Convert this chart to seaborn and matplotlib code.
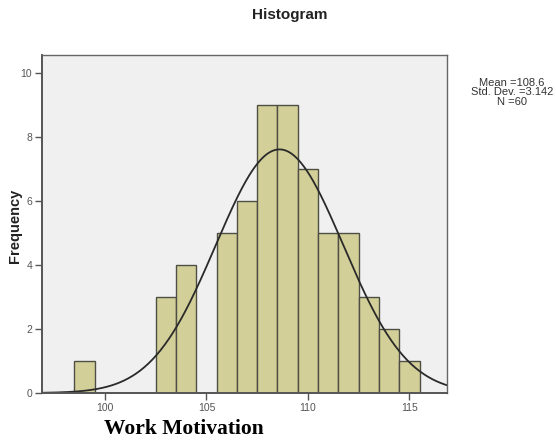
import numpy as np
import pandas as pd
import matplotlib
matplotlib.use('Agg')
import matplotlib.pyplot as plt
import seaborn as sns

scores = [99, 103, 104, 106, 107, 108, 109, 110, 111, 112, 113, 114, 115]
counts = [1, 3, 4, 5, 6, 9, 9, 7, 5, 5, 3, 2, 1]
mean_val = 108.6
sd_val = 3.142
n_val = 60

df = pd.DataFrame({'score': scores, 'count': counts})

sns.set_style('white')
plt.rcParams['font.family'] = ['Liberation Sans', 'DejaVu Sans']

fig = plt.figure(figsize=(5.56, 4.4), dpi=100)
ax = fig.add_axes([0.0755, 0.1068, 0.7285, 0.7682])
ax.set_facecolor('#f0f0f0')

sns.histplot(data=df, x='score', weights='count', binwidth=1, binrange=(98.5, 115.5),
             color='#d3cf98', edgecolor='#4e4e44', linewidth=1.0, alpha=1, ax=ax)

# normal curve from the reported mean / sd, scaled to counts
xs = np.linspace(96.9, 116.85, 400)
ys = n_val * np.exp(-0.5 * ((xs - mean_val) / sd_val) ** 2) / (sd_val * np.sqrt(2 * np.pi))
ax.plot(xs, ys, color='#2a2a2a', linewidth=1.3)

ax.set_xlim(96.9, 116.85)
ax.set_ylim(0, 10.57)
ax.set_xticks([100, 105, 110, 115])
ax.set_yticks([0, 2, 4, 6, 8, 10])
ax.tick_params(axis='both', labelsize=7.5, colors='#555555', length=5, width=1, direction='out',
               bottom=True, left=True, pad=2)
for s in ax.spines.values():
    s.set_color('#666666')
    s.set_linewidth(1.0)
ax.spines['left'].set_linewidth(1.4)
ax.spines['left'].set_color('#555555')
ax.spines['bottom'].set_linewidth(1.4)
ax.spines['bottom'].set_color('#555555')

ax.set_xlabel('')
ax.set_ylabel('')

fig.text(0.027, 0.486, 'Frequency', rotation=90, ha='center', va='center', fontsize=10.5,
         fontweight='bold', color='#222222')
fig.text(0.522, 0.966, 'Histogram', ha='center', va='center', fontsize=11, fontweight='bold', color='#222222')
fig.text(0.331, 0.025, 'Work Motivation', ha='center', va='center', fontsize=15.5, fontweight='bold',
         family=['Liberation Serif', 'DejaVu Serif'], color='black')
fig.text(0.921, 0.79, f'Mean ={mean_val}\nStd. Dev. ={sd_val}\nN ={n_val}', ha='center', va='center',
         fontsize=8.0, color='#333333', linespacing=0.98)

fig.savefig('out.png', dpi=100)
